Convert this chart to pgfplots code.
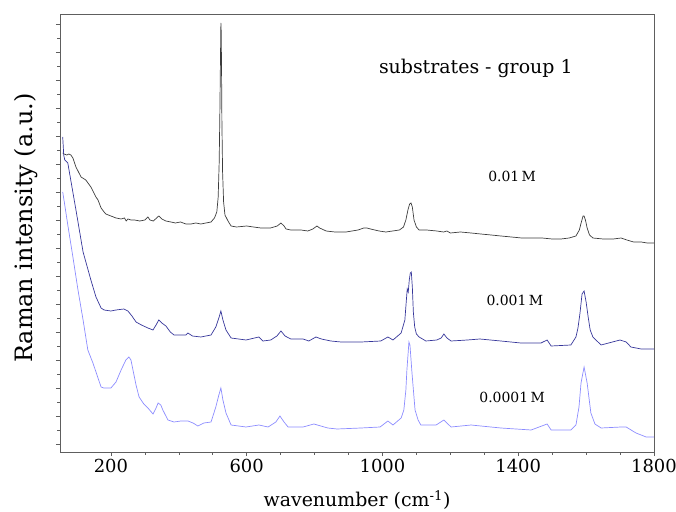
\documentclass[border=0pt]{standalone}
\usepackage{fontspec}
\setmainfont{DejaVu Serif}
\usepackage{pgfplots}
\pgfplotsset{compat=1.18}
\usetikzlibrary{calc}
\definecolor{CurveBlack}{HTML}{3C3C3C}
\definecolor{CurveNavy}{HTML}{36369A}
\definecolor{CurveLight}{HTML}{8C8CFF}
\definecolor{Frame}{HTML}{5E5E5E}

\begin{document}
\begin{tikzpicture}
\begin{axis}[
  scale only axis,
  width=594bp, height=438bp,
  xmin=50, xmax=1800,
  ymin=0, ymax=438,
  xtick={200,600,1000,1400,1800},
  minor x tick num=3,
  ytick={8,36,...,428},
  minor y tick num=1,
  yticklabels={},
  xtick pos=bottom, ytick pos=left,
  tick align=outside,
  major tick length=4bp, minor tick length=2.5bp,
  axis line style={draw=Frame, line width=0.8pt},
  every tick/.style={draw=Frame, line width=0.6pt},
  tick label style={font=\fontsize{18}{20}\selectfont},
  /pgf/number format/assume math mode=true,
  /pgf/number format/1000 sep={},
  xlabel={wavenumber (cm\textsuperscript{-1})},
  xlabel style={font=\fontsize{19}{21}\selectfont, at={(axis description cs:0.5,-0.11)}, anchor=center},
  ylabel={Raman intensity (a.u.)},
  ylabel style={font=\fontsize{24}{26}\selectfont, at={(axis description cs:-0.057,0.511)}, anchor=center},
]
% 0.01 M
\addplot[CurveBlack, line width=0.7pt] coordinates {
(58,299) (62,298) (70,297) (76,298) (82,297) (88,294) (97,285) (112,275) (126,272)
(141,265) (156,255) (162,252) (171,244) (180,240) (185,238) (200,236) (215,234)
(230,233) (240,234) (245,231) (250,233) (259,232) (270,232) (285,231) (300,232)
(309,235) (315,232) (325,231) (341,236) (350,233) (362,231) (377,230) (390,229)
(405,230) (421,228) (436,228) (450,229) (465,228) (480,229) (495,230) (505,234)
(512,240) (516,255) (519,290) (521,340) (523,400) (524,429) (525,420) (526,380)
(527,330) (529,280) (532,250) (536,237) (545,231) (554,226) (570,225) (600,226)
(620,225) (642,224) (670,224) (690,226) (701,229) (710,226) (716,223) (730,222)
(760,222) (780,221) (795,223) (807,226) (815,224) (834,221) (860,220) (893,220)
(910,221) (928,222) (945,224) (954,224) (965,223) (990,221) (1010,220) (1030,221)
(1050,222) (1062,225) (1069,232) (1075,242) (1080,248) (1084,249) (1088,245)
(1093,232) (1100,225) (1108,222) (1130,222) (1160,221) (1180,220) (1190,221)
(1200,219) (1230,220) (1261,219) (1290,218) (1320,217) (1349,216) (1380,215)
(1410,214) (1440,214) (1470,214) (1500,213) (1526,213) (1550,214) (1570,216)
(1580,222) (1586,230) (1591,236) (1594,236) (1598,232) (1603,224) (1610,217)
(1620,214) (1650,213) (1680,213) (1703,214) (1720,212) (1740,210) (1762,210)
(1780,209) (1800,209)
};
% 0.001 M
\addplot[CurveNavy, line width=0.7pt] coordinates {
(58,315) (61,297) (64,292) (73,289) (97,242) (118,200) (141,172) (156,155)
(171,144) (180,142) (200,141) (215,142) (238,143) (250,141) (262,136) (274,130)
(290,127) (309,124) (324,122) (333,127) (341,132) (350,129) (362,126) (375,120)
(386,117) (405,117) (421,117) (427,119) (440,116) (465,115) (495,117) (509,125)
(518,134) (524,141) (530,132) (539,122) (554,114) (598,112) (636,115) (648,111)
(671,112) (689,116) (701,121) (713,116) (730,113) (766,113) (783,111) (804,115)
(820,113) (848,111) (878,110) (937,110) (995,111) (1016,115) (1031,112)
(1055,119) (1066,132) (1070,150) (1073,163) (1076,160) (1079,172) (1082,179)
(1085,180) (1088,165) (1091,140) (1095,125) (1100,118) (1108,115) (1128,111)
(1160,112) (1173,114) (1181,118) (1190,114) (1202,111) (1250,112) (1287,113)
(1349,111) (1408,109) (1467,109) (1485,112) (1497,106) (1555,107) (1570,115)
(1576,124) (1582,139) (1588,158) (1594,161) (1600,150) (1606,135) (1612,122)
(1620,115) (1644,107) (1700,112) (1718,110) (1732,105) (1762,103) (1800,103)
};
% 0.0001 M
\addplot[CurveLight, line width=0.7pt] coordinates {
(58,260) (64,247) (73,227) (88,195) (103,162) (118,132) (132,102) (147,89)
(162,74) (171,65) (179,64) (200,64) (215,70) (230,82) (244,92) (253,95) (259,92)
(265,82) (274,67) (283,55) (297,48) (309,44) (324,38) (333,44) (339,49) (347,47)
(353,42) (368,32) (386,30) (406,31) (427,31) (442,29) (456,26) (474,29) (495,30)
(509,45) (518,57) (524,64) (530,52) (539,39) (554,27) (598,25) (636,27) (663,25)
(686,30) (698,36) (710,30) (722,25) (766,25) (798,28) (839,24) (866,23) (937,24)
(993,25) (1016,31) (1031,27) (1055,34) (1063,42) (1069,62) (1072,82) (1078,110)
(1081,107) (1087,79) (1096,42) (1105,32) (1113,27) (1158,27) (1181,32) (1202,25)
(1261,27) (1290,26) (1349,24) (1438,22) (1485,28) (1497,22) (1555,22) (1570,27)
(1579,45) (1585,69) (1594,85) (1603,69) (1614,39) (1626,28) (1644,24) (1703,25)
(1718,25) (1747,19) (1777,15) (1800,15)
};
\node[font=\fontsize{19}{21}\selectfont] at (axis cs:1275,384) {substrates - group 1};
\node[font=\fontsize{14}{16}\selectfont] at (axis cs:1382,276) {0.01\,M};
\node[font=\fontsize{14}{16}\selectfont] at (axis cs:1390,152) {0.001\,M};
\node[font=\fontsize{14}{16}\selectfont] at (axis cs:1382,55) {0.0001\,M};
\end{axis}
\pgfresetboundingbox
\path ($(current axis.south west)+(-60bp,-60bp)$) rectangle ($(current axis.north east)+(22bp,14bp)$);
\end{tikzpicture}
\end{document}
